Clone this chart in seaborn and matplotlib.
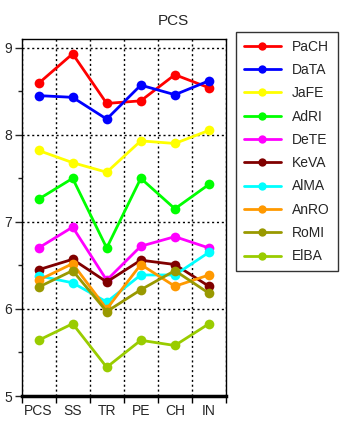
import matplotlib
matplotlib.use("Agg")
import matplotlib.pyplot as plt
import seaborn as sns
import pandas as pd
from matplotlib.lines import Line2D

categories = ["PCS", "SS", "TR", "PE", "CH", "IN"]
names = ["PaCH", "DaTA", "JaFE", "AdRI", "DeTE", "KeVA", "AlMA", "AnRO", "RoMI", "ElBA"]
PaCH = [8.59, 8.93, 8.36, 8.39, 8.69, 8.54]
DaTA = [8.45, 8.43, 8.18, 8.57, 8.46, 8.62]
JaFE = [7.82, 7.68, 7.57, 7.93, 7.90, 8.05]
AdRI = [7.26, 7.50, 6.70, 7.50, 7.15, 7.43]
DeTE = [6.70, 6.94, 6.33, 6.72, 6.83, 6.70]
KeVA = [6.45, 6.57, 6.31, 6.56, 6.51, 6.26]
AlMA = [6.38, 6.30, 6.08, 6.39, 6.39, 6.65]
AnRO = [6.33, 6.52, 6.00, 6.51, 6.26, 6.39]
RoMI = [6.25, 6.44, 5.97, 6.22, 6.44, 6.18]
ElBA = [5.64, 5.83, 5.33, 5.64, 5.58, 5.83]
series = [PaCH, DaTA, JaFE, AdRI, DeTE, KeVA, AlMA, AnRO, RoMI, ElBA]
colors = ["#FF0000", "#0000FF", "#FFFF00", "#00FF00", "#FF00FF",
          "#800000", "#00FFFF", "#FF9900", "#999900", "#99CC00"]

rows = []
for n, vals in zip(names, series):
    for i, (c, v) in enumerate(zip(categories, vals)):
        rows.append({"name": n, "pos": i, "cat": c, "value": v})
df = pd.DataFrame(rows)

sns.set_style("white")
plt.rcParams["font.family"] = ["Liberation Sans", "DejaVu Sans"]

fig = plt.figure(figsize=(3.45, 4.24), dpi=100)
W, H = 345, 424
ax = fig.add_axes([21.5 / W, 1 - 396 / H, (226 - 21.5) / W, (396 - 39) / H])

palette = dict(zip(names, colors))
sns.lineplot(data=df, x="pos", y="value", hue="name", hue_order=names,
             palette=palette, marker="o", markersize=7, markeredgewidth=0,
             linewidth=2, sort=False, legend=False, ax=ax)

ax.set_xlim(-0.5, 5.5)
ax.set_ylim(5, 9.1)
ax.set_xticks([i - 0.5 for i in range(7)])
ax.set_xticklabels([])
ax.set_xticks(range(6), minor=True)
ax.set_xticklabels(categories, minor=True)
ax.tick_params(axis="x", which="major", length=5, width=1, color="black", direction="out", bottom=True)
ax.tick_params(axis="x", which="minor", length=0, labelsize=10, pad=6)
ax.set_yticks([5, 6, 7, 8, 9])
ax.set_yticks([5.5, 6.5, 7.5, 8.5], minor=True)
ax.tick_params(axis="y", which="major", length=5, width=1, direction="out", left=True, labelsize=10, pad=2)
ax.tick_params(axis="y", which="minor", length=3, width=1, direction="out", left=True)
ax.grid(True, which="major", color="black", linestyle=(0, (1.5, 2)), linewidth=1)
ax.set_axisbelow(True)
for s in ax.spines.values():
    s.set_color("black")
    s.set_linewidth(1)
ax.spines["bottom"].set_linewidth(2.5)
ax.set_xlabel("")
ax.set_ylabel("")
fig.text(173 / W, 1 - 21 / H, "PCS", ha="center", va="center", fontsize=11)

handles = [Line2D([0], [0], color=c, lw=2, marker="o", markersize=6, markeredgewidth=0)
           for c in colors]
leg = fig.legend(handles, names, loc="upper left",
                 bbox_to_anchor=(236 / W, 1 - 32 / H), frameon=True,
                 fancybox=False, edgecolor="black", fontsize=10,
                 handlelength=2.7, labelspacing=0.67, borderpad=0.55,
                 handletextpad=0.8, borderaxespad=0)
leg.get_frame().set_linewidth(1)

fig.savefig("out.png", dpi=100)
